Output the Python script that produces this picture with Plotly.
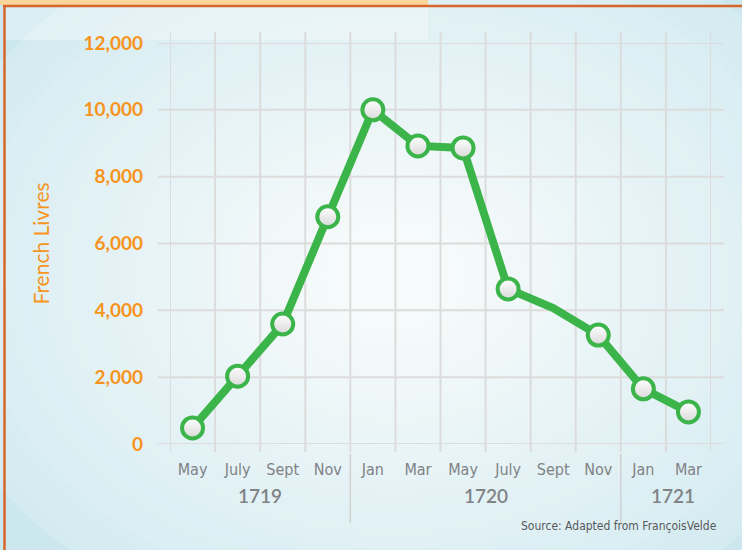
import plotly.graph_objects as go

# ---- data ----
months = ["May", "July", "Sept", "Nov", "Jan", "Mar", "May", "July", "Sept", "Nov", "Jan", "Mar"]
prices = [480, 2030, 3590, 6800, 10000, 8920, 8860, 4640, 4070, 3260, 1650, 960]
has_marker = [1, 1, 1, 1, 1, 1, 1, 1, 0, 1, 1, 1]
years = ["1719", "1720", "1721"]
year_start = [0, 4, 10]
year_end = [3, 9, 11]
y_ticks = [0, 2000, 4000, 6000, 8000, 10000, 12000]

W, H = 742, 550
L, R, T, B = 170, 711, 43, 444  # plot area in pixels
ORANGE = "#F7941D"
GREEN = "#3BB54A"
GRID = "#DCDCDC"
GRAY = "#808285"
NARROW = "Liberation Sans Narrow, DejaVu Sans Condensed, Roboto"


def px(xp):
    return (xp - L) / (R - L)


def py(yp):
    return (B - yp) / (B - T)


def mix(c1, c2, t):
    return "rgb(%d,%d,%d)" % tuple(round(a + (b - a) * t) for a, b in zip(c1, c2))


xs = list(range(len(months)))

fig = go.Figure()
fig.add_trace(go.Scatter(
    x=xs, y=prices, mode="lines+markers",
    line=dict(color=GREEN, width=8),
    marker=dict(size=21, color="#FFFFFF", opacity=has_marker,
                line=dict(color=GREEN, width=4),
                gradient=dict(type="vertical", color="#D9D9D9")),
    hoverinfo="x+y", showlegend=False, cliponaxis=False,
))

shapes = []
# radial background glow (opaque stepped ellipses)
outer = (212, 235, 241)
inner = (246, 250, 250)
n = 30
for i in range(n):
    t = i / (n - 1)
    rx = 480 - t * 420
    ry = rx * 0.78
    cx, cy = 395, 275
    shapes.append(dict(type="circle", xref="paper", yref="paper", layer="below",
                       x0=px(cx - rx), x1=px(cx + rx), y0=py(cy + ry), y1=py(cy - ry),
                       fillcolor=mix(outer, inner, t ** 0.9), line=dict(width=0)))
# pale band top-left
shapes.append(dict(type="rect", xref="paper", yref="paper", layer="below",
                   x0=px(5), x1=px(428), y0=py(40), y1=py(7),
                   fillcolor="rgba(255,255,255,0.3)", line=dict(width=0)))
# peach top bar
shapes.append(dict(type="rect", xref="paper", yref="paper", layer="above",
                   x0=px(0), x1=px(428), y0=py(5), y1=py(0),
                   fillcolor="#FCD59B", line=dict(width=0)))
# orange frame
shapes.append(dict(type="line", xref="paper", yref="paper", layer="above",
                   x0=px(3), x1=px(742), y0=py(6), y1=py(6),
                   line=dict(color="#D7662A", width=2.5)))
shapes.append(dict(type="line", xref="paper", yref="paper", layer="above",
                   x0=px(4.5), x1=px(4.5), y0=py(5), y1=py(550),
                   line=dict(color="#D7662A", width=2.5)))
# horizontal grid lines
for v in y_ticks:
    shapes.append(dict(type="line", xref="paper", yref="y", layer="below",
                       x0=px(158), x1=px(724), y0=v, y1=v,
                       line=dict(color=GRID, width=2)))
# vertical grid lines at category boundaries
for i in range(len(months) + 1):
    shapes.append(dict(type="line", xref="x", yref="paper", layer="below",
                       x0=i - 0.5, x1=i - 0.5, y0=py(452), y1=py(32),
                       line=dict(color=GRID, width=2)))
# year separators
for s in year_start[1:]:
    shapes.append(dict(type="line", xref="x", yref="paper", layer="below",
                       x0=s - 0.5, x1=s - 0.5, y0=py(523), y1=py(454),
                       line=dict(color="#D0D0D0", width=1.5)))

annotations = []
for yr, s, e in zip(years, year_start, year_end):
    annotations.append(dict(x=(s + e) / 2 + (0.15 if e == s + 1 else 0), y=py(496),
                            xref="x", yref="paper", text=yr, showarrow=False,
                            font=dict(family="Lato", size=19, color=GRAY, weight=600),
                            xanchor="center", yanchor="middle"))
annotations.append(dict(x=px(719), y=py(526), xref="paper", yref="paper",
                        text="Source: Adapted from FrançoisVelde", showarrow=False,
                        font=dict(family=NARROW, size=12, color="#58595B"),
                        xanchor="right", yanchor="middle"))

fig.update_layout(
    width=W, height=H,
    margin=dict(l=L, r=W - R, t=T, b=H - B, autoexpand=False),
    paper_bgcolor="rgb(204,231,238)",
    plot_bgcolor="rgba(0,0,0,0)",
    shapes=shapes, annotations=annotations,
    xaxis=dict(range=[-0.5, len(months) - 0.5], tickvals=xs, ticktext=months,
               showgrid=False, zeroline=False, showline=False, ticks="",
               ticklabelstandoff=14,
               tickfont=dict(family=NARROW, size=16, color=GRAY), fixedrange=True),
    yaxis=dict(range=[0, 12000], tickvals=y_ticks, tickformat=",d",
               showgrid=False, zeroline=False, showline=False, ticks="",
               ticklabelstandoff=26,
               tickfont=dict(family="Lato", size=19, color=ORANGE, weight=700),
               title=dict(text="French Livres", standoff=28,
                          font=dict(family="Lato", size=21, color=ORANGE)),
               fixedrange=True),
)

fig.write_html("out.html", config={"displayModeBar": False},
               post_script="document.body.style.margin='0';document.body.style.padding='0';")
